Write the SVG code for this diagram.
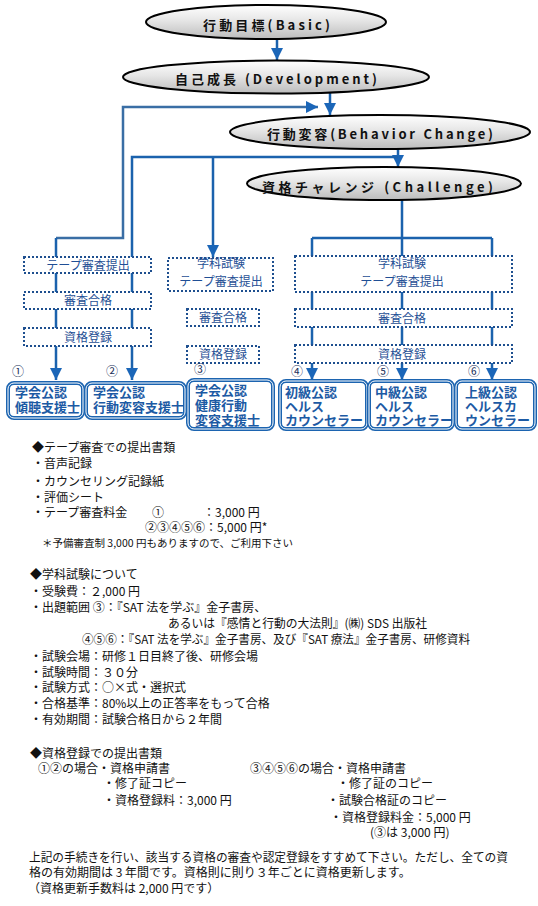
<svg xmlns="http://www.w3.org/2000/svg" width="538" height="906" viewBox="0 0 538 906">
<style>
.ln{fill:none;stroke:#1b62ad;stroke-width:2.5}
.dbox{fill:#fff;stroke:#1e4f8f;stroke-width:2;stroke-dasharray:2 2}
.dt{font-family:"Noto Sans CJK JP",sans-serif;font-size:12px;fill:#1f4f95;text-anchor:middle}
.rbox{fill:#fff;stroke:#1c64b0;stroke-width:4}
.rin{fill:none;stroke:#fff;stroke-width:1}
.rt{font-family:"Noto Sans CJK JP",sans-serif;font-size:13px;font-weight:bold;fill:#1c5aa4}
.el{fill:url(#g);stroke:#000;stroke-width:2}
.et{font-family:"Noto Sans CJK JP",sans-serif;font-size:13px;font-weight:bold;fill:#111}
.tx{font-family:"Noto Sans CJK JP",sans-serif;font-size:12px;fill:#111}
.sm{font-size:10.5px}
.num{font-family:"Noto Sans CJK JP",sans-serif;font-size:12px;fill:#1a2f5a;text-anchor:middle}
</style>
<defs>
<linearGradient id="g" x1="0" y1="0" x2="0" y2="1">
<stop offset="0" stop-color="#ffffff"/>
<stop offset="0.45" stop-color="#e6e6e6"/>
<stop offset="1" stop-color="#bcbcbc"/>
</linearGradient>
<marker id="ar" markerUnits="userSpaceOnUse" markerWidth="13" markerHeight="12" refX="12" refY="6" orient="auto">
<path d="M0,0 L12,6 L0,12 z" fill="#1b66b8"/>
</marker>
</defs>

<g id="connectors">
<path class="ln" d="M277,39 V60" marker-end="url(#ar)"/>
<path class="ln" d="M330,93 V115" marker-end="url(#ar)"/>
<path class="ln" style="stroke:#3a6ea5" d="M56,238 H123 V107 H318" marker-end="url(#ar)"/>
<path class="ln" d="M56,238 V380" marker-end="url(#ar)"/>
<path class="ln" d="M398,149 V167" marker-end="url(#ar)"/>
<path class="ln" d="M398,157 H132 V380" marker-end="url(#ar)"/>
<path class="ln" d="M213,157 V257" marker-end="url(#ar)"/>
<path class="ln" d="M402,200 V238 M312,238 H492 M312,238 V363 M402,238 V363 M492,238 V363"/>
<path class="ln" d="M312,362 V380" marker-end="url(#ar)"/>
<path class="ln" d="M402,362 V380" marker-end="url(#ar)"/>
<path class="ln" d="M492,362 V380" marker-end="url(#ar)"/>
</g>

<g id="basic"><ellipse class="el" cx="266" cy="22" rx="120" ry="17"/><text class="et" x="203" y="30" textLength="127" lengthAdjust="spacing">行動目標(Basic)</text></g>
<g id="development"><ellipse class="el" cx="276" cy="77" rx="153" ry="16.5"/><text class="et" x="175" y="84" textLength="202" lengthAdjust="spacing">自己成長 (Development)</text></g>
<g id="behavior"><ellipse class="el" cx="380" cy="132" rx="150" ry="17"/><text class="et" x="267" y="139" textLength="226" lengthAdjust="spacing">行動変容(Behavior Change)</text></g>
<g id="challenge"><ellipse class="el" cx="384" cy="183.5" rx="137" ry="16.5"/><text class="et" x="262" y="192" textLength="231" lengthAdjust="spacing">資格チャレンジ (Challenge)</text></g>

<g id="l-tape"><rect class="dbox" x="24" y="257" width="127" height="16"/><text class="dt" x="88" y="269.5">テープ審査提出</text></g>
<g id="l-pass"><rect class="dbox" x="24" y="292" width="127" height="17"/><text class="dt" x="88" y="305">審査合格</text></g>
<g id="l-reg"><rect class="dbox" x="24" y="328" width="127" height="18"/><text class="dt" x="88" y="341.5">資格登録</text></g>

<g id="m-exam"><rect class="dbox" x="168" y="258" width="105" height="33"/><text class="dt" x="221" y="268">学科試験</text><text class="dt" x="221" y="286">テープ審査提出</text></g>
<g id="m-pass"><rect class="dbox" x="187" y="309" width="72" height="17"/><text class="dt" x="223" y="322">審査合格</text></g>
<g id="m-reg"><rect class="dbox" x="187" y="346" width="72" height="17"/><text class="dt" x="223" y="359">資格登録</text></g>

<g id="r-exam"><rect class="dbox" x="295" y="256" width="217" height="36"/><text class="dt" x="402" y="268">学科試験</text><text class="dt" x="402" y="286">テープ審査提出</text></g>
<g id="r-pass"><rect class="dbox" x="295" y="309" width="217" height="18"/><text class="dt" x="402" y="322.5">審査合格</text></g>
<g id="r-reg"><rect class="dbox" x="295" y="345" width="217" height="18"/><text class="dt" x="402" y="359">資格登録</text></g>

<g id="nums">
<text class="num" x="18" y="376">①</text>
<text class="num" x="112" y="376">②</text>
<text class="num" x="200" y="374">③</text>
<text class="num" x="297" y="376">④</text>
<text class="num" x="383" y="376">⑤</text>
<text class="num" x="474" y="376">⑥</text>
</g>

<g id="q1"><rect class="rbox" x="8" y="383" width="75" height="35" rx="6"/><rect class="rin" x="8" y="383" width="75" height="35" rx="6"/><text class="rt" x="15" y="397">学会公認</text><text class="rt" x="15" y="412">傾聴支援士</text></g>
<g id="q2"><rect class="rbox" x="86" y="383" width="99" height="35" rx="6"/><rect class="rin" x="86" y="383" width="99" height="35" rx="6"/><text class="rt" x="93" y="397">学会公認</text><text class="rt" x="93" y="412">行動変容支援士</text></g>
<g id="q3"><rect class="rbox" x="188" y="380" width="85" height="49" rx="6"/><rect class="rin" x="188" y="380" width="85" height="49" rx="6"/><text class="rt" x="195" y="395">学会公認</text><text class="rt" x="195" y="410">健康行動</text><text class="rt" x="195" y="425">変容支援士</text></g>
<g id="q4"><rect class="rbox" x="280" y="381" width="87" height="48" rx="6"/><rect class="rin" x="280" y="381" width="87" height="48" rx="6"/><text class="rt" x="285" y="397">初級公認</text><text class="rt" x="285" y="411">ヘルス</text><text class="rt" x="285" y="425">カウンセラー</text></g>
<g id="q5"><rect class="rbox" x="369" y="381" width="84" height="48" rx="6"/><rect class="rin" x="369" y="381" width="84" height="48" rx="6"/><text class="rt" x="375" y="397">中級公認</text><text class="rt" x="375" y="411">ヘルス</text><text class="rt" x="375" y="425">カウンセラー</text></g>
<g id="q6"><rect class="rbox" x="456" y="381" width="79" height="48" rx="6"/><rect class="rin" x="456" y="381" width="79" height="48" rx="6"/><text class="rt" x="465" y="397">上級公認</text><text class="rt" x="465" y="411">ヘルスカ</text><text class="rt" x="465" y="425">ウンセラー</text></g>

<g id="notes">
<text class="tx" x="32" y="451.5">◆テープ審査での提出書類</text>
<text class="tx" x="32" y="467.5">・音声記録</text>
<text class="tx" x="32" y="485.5">・カウンセリング記録紙</text>
<text class="tx" x="32" y="501.5">・評価シート</text>
<text class="tx" x="32" y="516.5">・テープ審査料金</text>
<text class="tx" x="152" y="516.5">①</text>
<text class="tx" x="203" y="516.5">：3,000 円</text>
<text class="tx" x="145" y="531.5">②③④⑤⑥：5,000 円*</text>
<text class="tx sm" x="42" y="546.5">＊予備審査制 3,000 円もありますので、ご利用下さい</text>

<text class="tx" x="30" y="579">◆学科試験について</text>
<text class="tx" x="30" y="596">・受験費：２,000 円</text>
<text class="tx" x="30" y="612">・出題範囲 ③：『SAT 法を学ぶ』金子書房、</text>
<text class="tx" x="168" y="628" textLength="259" lengthAdjust="spacingAndGlyphs">あるいは『感情と行動の大法則』(㈱) SDS 出版社</text>
<text class="tx" x="82" y="644" textLength="388" lengthAdjust="spacingAndGlyphs">④⑤⑥：『SAT 法を学ぶ』金子書房、及び『SAT 療法』金子書房、研修資料</text>
<text class="tx" x="30" y="661">・試験会場：研修１日目終了後、研修会場</text>
<text class="tx" x="30" y="677">・試験時間：３０分</text>
<text class="tx" x="30" y="692">・試験方式：○×式・選択式</text>
<text class="tx" x="30" y="708">・合格基準：80%以上の正答率をもって合格</text>
<text class="tx" x="30" y="724">・有効期間：試験合格日から２年間</text>

<text class="tx" x="30" y="757.5">◆資格登録での提出書類</text>
<text class="tx" x="38" y="772.5">①②の場合・資格申請書</text>
<text class="tx" x="103" y="787.5">・修了証コピー</text>
<text class="tx" x="103" y="804.5">・資格登録料：3,000 円</text>
<text class="tx" x="250" y="772.5">③④⑤⑥の場合・資格申請書</text>
<text class="tx" x="337" y="787.5">・修了証のコピー</text>
<text class="tx" x="327" y="804.5">・試験合格証のコピー</text>
<text class="tx" x="330" y="821.5">・資格登録料金：5,000 円</text>
<text class="tx" x="370" y="836.5">(③は 3,000 円)</text>

<text class="tx" x="29" y="861.5" textLength="479" lengthAdjust="spacingAndGlyphs">上記の手続きを行い、該当する資格の審査や認定登録をすすめて下さい。ただし、全ての資</text>
<text class="tx" x="29" y="876.5">格の有効期間は 3 年間です。資格則に則り３年ごとに資格更新します。</text>
<text class="tx" x="28" y="892.5">（資格更新手数料は 2,000 円です）</text>
</g>
</svg>
